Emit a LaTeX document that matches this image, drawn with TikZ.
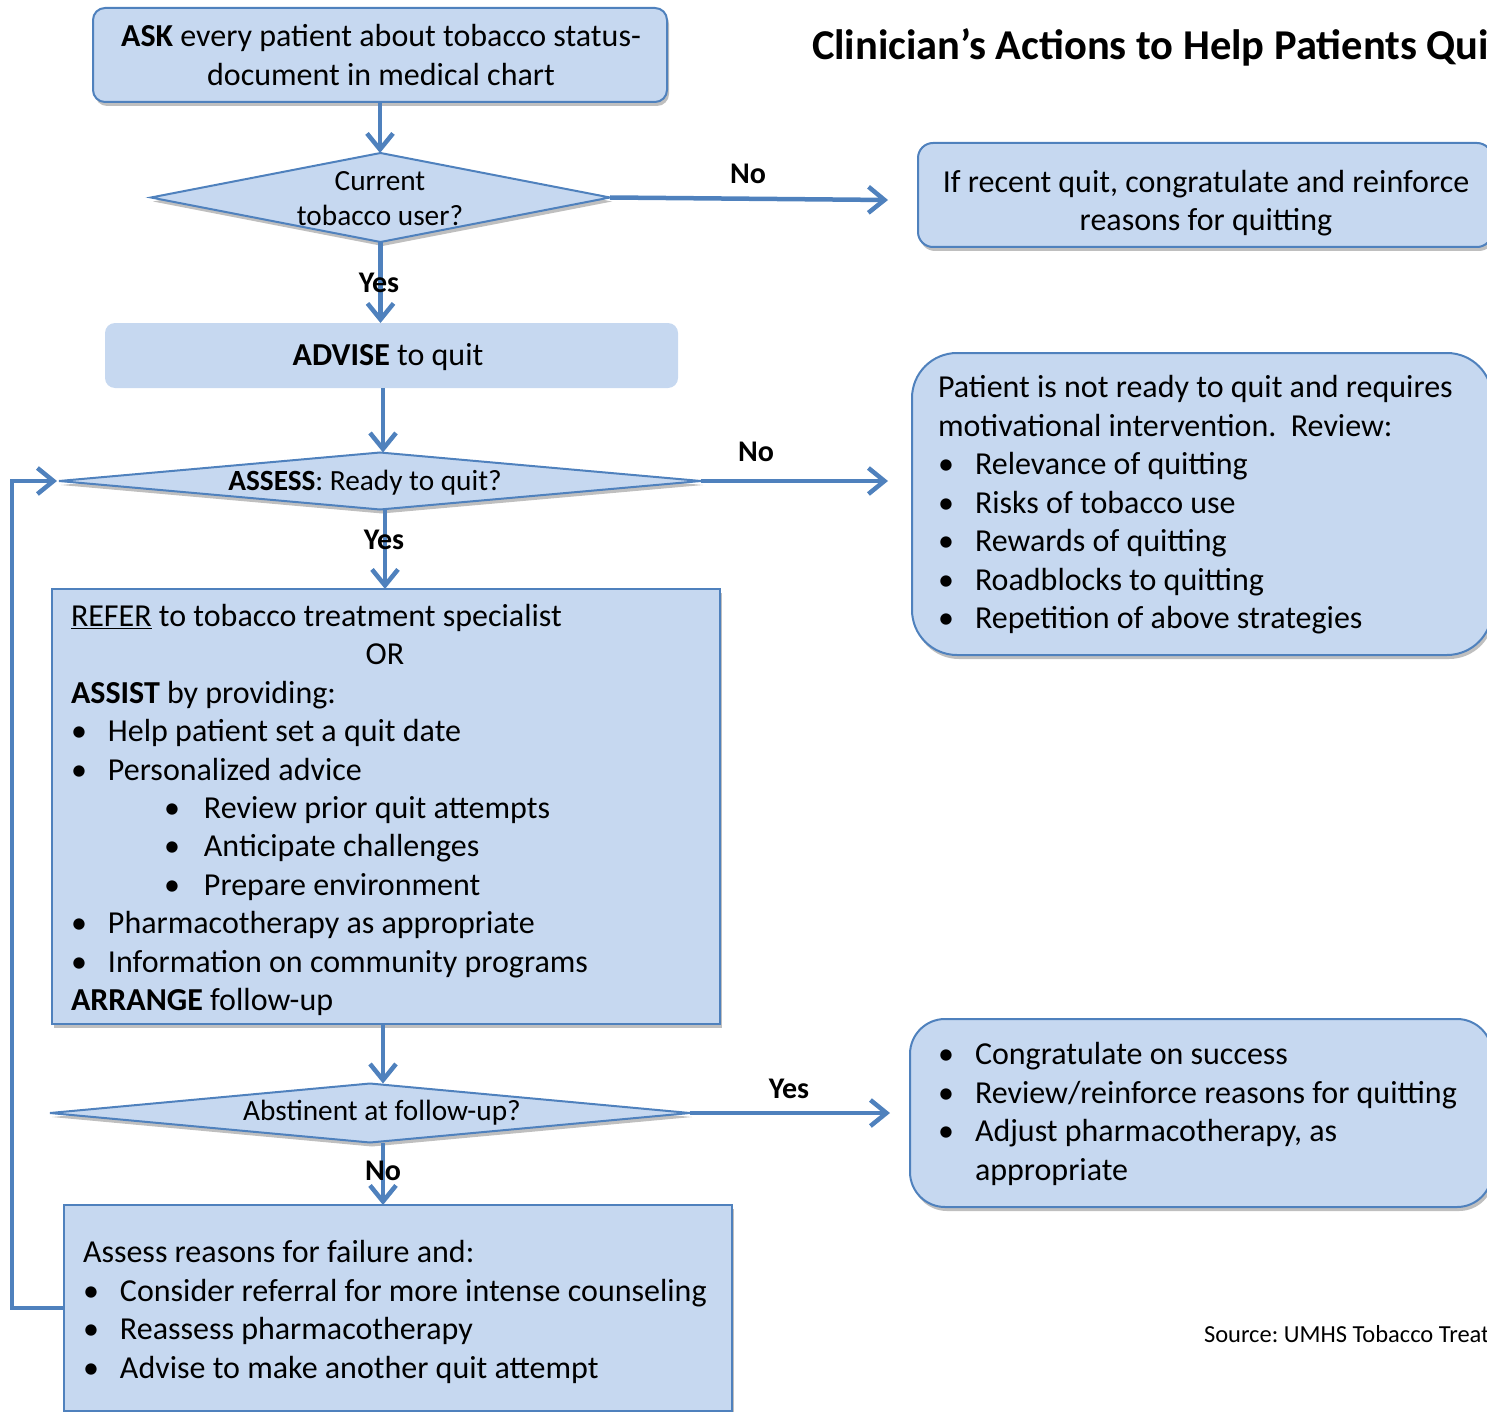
\documentclass[tikz,border=0pt]{standalone}
\usepackage{fontspec}
\setmainfont{Carlito}
\usetikzlibrary{shapes.geometric,arrows.meta,shadows}
\definecolor{boxfill}{HTML}{C6D8F0}
\definecolor{boxline}{HTML}{4F81BD}
\newcommand\mybul{\makebox[37pt][l]{•}}
\frenchspacing
\begin{document}
\frenchspacing
\begin{tikzpicture}[x=1pt,y=-1pt,
  every node/.style={font=\frenchspacing\fontsize{32}{38.5}\selectfont, inner sep=0pt, outer sep=0pt},
  shad/.style={drop shadow={shadow xshift=2pt, shadow yshift=-4pt, opacity=0.25, fill=black}},
  box/.style={draw=boxline, line width=2pt, fill=boxfill, shad},
  dia/.style={diamond, draw=boxline, line width=2pt, fill=boxfill, shad, inner sep=0pt},
  conn/.style={draw=boxline, line width=4.5pt, -{Straight Barb[length=16pt,width=26pt]}},
  lab/.style={font=\bfseries\fontsize{30}{36}\selectfont},
  dtext/.style={align=center, font=\fontsize{29.3}{35}\selectfont}]
\useasboundingbox (0,0) rectangle (1487,1412);

% boxes
\node[box, rounded corners=12pt, minimum width=574pt, minimum height=94pt] (ask) at (380,55) {};
\node[align=center, font=\fontsize{32}{39}\selectfont] (askt) at (381,55)
  {\textbf{ASK} every patient about tobacco status-\\document in medical chart};

\node[dia, minimum width=459pt, minimum height=89pt] (d1) at (380.5,197.5) {};
\node[dtext] (d1t) at (380,199) {Current\\tobacco user?};

\node[box, rounded corners=15pt, minimum width=574pt, minimum height=104pt] (recent) at (1205,195) {};
\node[align=center] (recentt) at (1206,203)
  {If recent quit, congratulate and reinforce\\reasons for quitting};

\node[fill=boxfill, rounded corners=10pt, minimum width=573pt, minimum height=65pt] (advise) at (391.5,355.5) {};
\node (adviset) at (388,357) {\textbf{ADVISE} to quit};

\node[dia, minimum width=642pt, minimum height=57pt] (d2) at (380,481) {};
\node[dtext] (d2t) at (365,483) {\textbf{ASSESS}: Ready to quit?};

\node[box, rounded corners=45pt, minimum width=580pt, minimum height=302pt] (notready) at (1202,504) {};
\node[anchor=west, align=left] (notreadyt) at (938,505)
  {Patient is not ready to quit and requires\\
   motivational intervention.\ \ Review:\\
   \mybul Relevance of quitting\\
   \mybul Risks of tobacco use\\
   \mybul Rewards of quitting\\
   \mybul Roadblocks to quitting\\
   \mybul Repetition of above strategies};

\node[box, minimum width=668pt, minimum height=435pt] (refer) at (386,806.5) {};
\node[anchor=west, align=left, font=\fontsize{32}{38.4}\selectfont] (refert) at (71,810)
  {\underline{REFER} to tobacco treatment specialist\\
   \makebox[628pt]{OR}\\
   \textbf{ASSIST} by providing:\\
   \mybul Help patient set a quit date\\
   \mybul Personalized advice\\
   \hspace*{93pt}\makebox[40pt][l]{•}Review prior quit attempts\\
   \hspace*{93pt}\makebox[40pt][l]{•}Anticipate challenges\\
   \hspace*{93pt}\makebox[40pt][l]{•}Prepare environment\\
   \mybul Pharmacotherapy as appropriate\\
   \mybul Information on community programs\\
   \textbf{ARRANGE} follow-up};

\node[dia, minimum width=640pt, minimum height=59pt] (d3) at (370,1113) {};
\node[dtext] (d3t) at (382,1113) {Abstinent at follow-up?};

\node[box, rounded corners=35pt, minimum width=582pt, minimum height=188pt] (congrats) at (1201,1113) {};
\node[anchor=west, align=left] (congratst) at (938,1114)
  {\mybul Congratulate on success\\
   \mybul Review/reinforce reasons for quitting\\
   \mybul Adjust pharmacotherapy, as\\
   \hspace*{37pt}appropriate};

\node[box, minimum width=668pt, minimum height=206pt] (assess) at (398,1308) {};
\node[anchor=west, align=left] (assesst) at (83,1312)
  {Assess reasons for failure and:\\
   \mybul Consider referral for more intense counseling\\
   \mybul Reassess pharmacotherapy\\
   \mybul Advise to make another quit attempt};

% title and source
\node[anchor=west, font=\bfseries\fontsize{42.5}{48}\selectfont] (title) at (812,47)
  {Clinician’s Actions to Help Patients Qui};
\node[anchor=west, font=\fontsize{24.5}{28}\selectfont] (src) at (1204,1334)
  {Source: UMHS Tobacco Treat};

% connectors
\coordinate (e1) at (888,200);
\coordinate (e2) at (888,481);
\coordinate (e3) at (890,1113);
\coordinate (lx) at (12,0);
\draw[conn] (ask.south) -- (ask.south |- d1.north);
\draw[conn] (d1.south) -- (d1.south |- advise.north);
\draw[conn] ([xshift=3pt]d2.north |- advise.south) -- ([xshift=3pt]d2.north);
\draw[conn] ([xshift=5pt]d2.south) -- ([xshift=5pt]d2.south |- refer.north);
\draw[conn] ([xshift=-3pt]refer.south) -- ([xshift=-3pt]refer.south |- d3.north);
\draw[conn] ([xshift=-3pt]refer.south |- d3.south) -- ([xshift=-3pt]refer.south |- assess.north);
\draw[conn] (d1.east) -- (e1);
\draw[conn] (d2.east) -- (e2);
\draw[conn] (d3.east) -- (e3);
\draw[conn] (assess.west) -- (assess.west -| lx) |- ([xshift=-2pt]d2.west);

% labels
\node[lab] (no1) at (748,174) {No};
\node[lab] (yes1) at (379,283) {Yes};
\node[lab] (no2) at (756,452) {No};
\node[lab] (yes2) at (384,540) {Yes};
\node[lab] (yes3) at (789,1089) {Yes};
\node[lab] (no3) at (383,1171) {No};
\end{tikzpicture}
\end{document}
